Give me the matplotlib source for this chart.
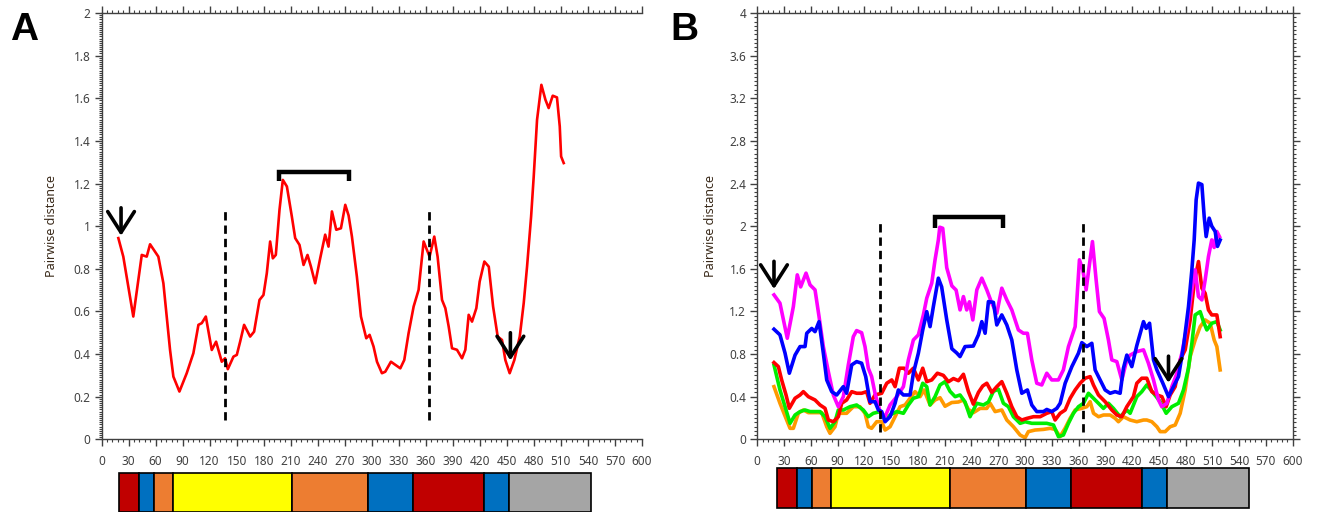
import matplotlib
matplotlib.use("Agg")
import matplotlib.pyplot as plt
from matplotlib.ticker import MultipleLocator, FuncFormatter

plt.rcParams["font.family"] = ["Noto Sans", "DejaVu Sans"]

W, H = 1318, 512

# ---- panel A: single red trace ----
a_x = [18.7, 24.2, 35.3, 44.7, 50.2, 53.9, 63.1, 68.7, 76.1, 79.8, 86.5, 94.6, 102, 107.6,
       111.3, 115.8, 122.4, 127.2, 133.5, 137.2, 140.2, 146.5, 150.2, 153.9, 158.3, 165,
       169.4, 175.4, 179.8, 183.5, 187.2, 190.2, 193.5, 197.6, 201.3, 205.8, 211.3, 215,
       219.8, 224.3, 228.7, 232.5, 237.2, 242.8, 248.3, 252, 255.8, 260.6, 265.8, 270.6,
       274.3, 278, 283.5, 288, 293.9, 297.6, 302, 305.8, 311.3, 315, 321.3, 326.3, 331.7,
       336.1, 340.9, 346.5, 352, 357.6, 361.3, 364.2, 369.4, 373.1, 378, 381.7, 385.4,
       389.1, 394.6, 400.2, 403.9, 407.6, 411.3, 416.1, 419.8, 425, 429.9, 434.7, 439.8,
       444.6, 448.3, 453.1, 458.3, 464.3, 468.7, 472.4, 476.9, 479.8, 483.5, 488.3, 492.8,
       496.4, 500.9, 505.6, 508.7, 510.2, 513.1]
a_y = [0.944, 0.857, 0.576, 0.865, 0.857, 0.915, 0.857, 0.732, 0.419, 0.294, 0.224, 0.31,
       0.404, 0.537, 0.545, 0.576, 0.419, 0.458, 0.364, 0.38, 0.329, 0.388, 0.396, 0.458,
       0.537, 0.482, 0.505, 0.654, 0.677, 0.779, 0.928, 0.849, 0.865, 1.077, 1.217, 1.186,
       1.045, 0.944, 0.912, 0.818, 0.865, 0.81, 0.732, 0.85, 0.96, 0.904, 1.069, 0.983,
       0.99, 1.1, 1.05, 0.951, 0.763, 0.576, 0.474, 0.49, 0.435, 0.364, 0.31, 0.317, 0.364,
       0.349, 0.333, 0.372, 0.498, 0.623, 0.701, 0.928, 0.888, 0.857, 0.951, 0.857, 0.654,
       0.615, 0.529, 0.427, 0.42, 0.38, 0.42, 0.584, 0.552, 0.615, 0.74, 0.834, 0.81, 0.623,
       0.482, 0.466, 0.372, 0.31, 0.372, 0.482, 0.639, 0.81, 1.045, 1.233, 1.499, 1.663,
       1.593, 1.554, 1.612, 1.604, 1.468, 1.327, 1.296]

# ---- panel B: five traces ----
mag_x = [18.7, 25.4, 33.6, 40.4, 44.8, 48.6, 54.6, 59.1, 64.7, 69.2, 74, 79.6, 85.2, 90.8,
         96.4, 102, 107.6, 111.3, 116.9, 120.7, 124.4, 128.1, 131.9, 137.6, 143.2, 148.8,
         156.3, 163.7, 169.3, 174.9, 180.5, 186.1, 189.9, 195.5, 199.2, 202.9, 204.5, 207.8,
         212.3, 218, 222.8, 227.2, 231, 234.7, 237.7, 241.5, 246, 251.6, 257.2, 262.8, 268.4,
         274, 279.6, 285.2, 292.6, 298.2, 302.7, 307.6, 313.2, 318.8, 324.4, 330, 337.4, 343,
         348.7, 356.2, 361, 364.8, 368.5, 371.9, 375.6, 379.7, 383.4, 388.6, 393.5, 397.3,
         402.9, 408.5, 414.1, 417.8, 425.3, 432.8, 438.3, 444, 449.6, 453.3, 458.9, 464.6,
         470.2, 475.8, 481.4, 487, 490.7, 494.4, 498.2, 501.9, 505.6, 509.3, 512, 515, 518]
mag_y = [1.355, 1.277, 0.948, 1.245, 1.543, 1.43, 1.559, 1.449, 1.402, 1.151, 0.87, 0.635,
         0.416, 0.306, 0.4, 0.698, 0.963, 1.02, 1.0, 0.87, 0.667, 0.59, 0.432, 0.26, 0.212,
         0.322, 0.4, 0.494, 0.745, 0.932, 0.98, 1.167, 1.324, 1.465, 1.684, 1.871, 1.99, 1.98,
         1.61, 1.44, 1.40, 1.214, 1.339, 1.214, 1.29, 1.12, 1.402, 1.512, 1.402, 1.277, 1.183,
         1.418, 1.308, 1.214, 1.026, 0.995, 0.995, 0.745, 0.526, 0.51, 0.62, 0.557, 0.557,
         0.651, 0.87, 1.057, 1.684, 1.59, 1.402, 1.62, 1.855, 1.496, 1.198, 1.135, 0.932,
         0.745, 0.729, 0.557, 0.745, 0.79, 0.823, 0.839, 0.714, 0.557, 0.369, 0.306, 0.337,
         0.494, 0.62, 0.808, 1.057, 1.402, 1.59, 1.339, 1.308, 1.496, 1.715, 1.871, 1.80,
         1.95, 1.90]

blue_x = [18.7, 25.4, 31.1, 35.9, 42.3, 47.9, 53.5, 55.4, 61, 64.7, 69.2, 74, 77.8, 83.4, 89,
          96.4, 100.1, 105.8, 111.3, 116.9, 121.5, 126.3, 131.9, 135.7, 139.4, 143.2, 148.8,
          154.4, 158.1, 163.7, 171.2, 174.9, 180.5, 185.4, 189.9, 193.6, 197.3, 202.9, 206.6,
          212.3, 218, 223.5, 227.2, 232.8, 242.1, 247.8, 251.6, 255.3, 259, 264.6, 268.4, 274,
          279.6, 285.2, 290.8, 296.4, 302.7, 307.6, 313.2, 320.7, 324.4, 330, 335.6, 339.4,
          345, 352.5, 359.9, 363.7, 369.3, 374.9, 378.6, 384.2, 389.8, 395.4, 401, 406.6,
          410.3, 414.1, 419.7, 425.3, 432.8, 435.8, 439.6, 444, 447.8, 454.5, 460.8, 466.4,
          472, 477.6, 483.2, 487, 489.6, 491.8, 494.4, 498.2, 500.8, 503, 506.4, 509.3, 513.1,
          515.7, 518.7]
blue_y = [1.033, 0.98, 0.808, 0.62, 0.79, 0.87, 0.87, 0.995, 1.04, 1.01, 1.104, 0.808, 0.557,
          0.447, 0.416, 0.494, 0.432, 0.698, 0.729, 0.714, 0.588, 0.353, 0.353, 0.275, 0.26,
          0.165, 0.212, 0.338, 0.463, 0.416, 0.416, 0.62, 0.808, 1.026, 1.198, 1.057, 1.245,
          1.512, 1.43, 1.12, 0.85, 0.81, 0.776, 0.87, 0.875, 0.98, 1.104, 0.995, 1.292, 1.285,
          1.073, 1.167, 1.073, 0.932, 0.651, 0.432, 0.463, 0.322, 0.26, 0.26, 0.28, 0.26, 0.29,
          0.338, 0.526, 0.682, 0.808, 0.907, 0.87, 0.901, 0.651, 0.557, 0.463, 0.432, 0.447,
          0.432, 0.667, 0.79, 0.682, 0.88, 1.104, 1.041, 1.089, 0.745, 0.651, 0.526, 0.4,
          0.494, 0.588, 0.87, 1.245, 1.59, 1.871, 2.247, 2.404, 2.39, 2.09, 1.902, 2.075, 2.0,
          1.95, 1.81, 1.87]

red_x = [18.7, 23.6, 27.3, 32.2, 35.9, 42.3, 47.9, 51.6, 57.2, 64.7, 70.3, 75.9, 79.6, 85.2,
         90.8, 94.6, 100.1, 105.8, 111.3, 116.9, 122.5, 126.3, 131.9, 139.4, 145.1, 150.7,
         154.4, 159.2, 164.5, 169.3, 174.9, 180.5, 185.4, 189.9, 195.5, 201.8, 208.5, 214.2,
         219.8, 225.4, 231, 236.5, 242.1, 247.8, 252.6, 257.2, 262.8, 268.4, 274, 279.6, 285.2,
         290.8, 296.4, 302, 309.5, 317, 324.4, 330, 333.7, 339.4, 345, 350.6, 356.2, 361.8,
         367.4, 373, 376.7, 382.3, 389.8, 397.3, 402.9, 408.5, 414.1, 421.5, 425.3, 430.9,
         436.5, 442.1, 447.8, 453.4, 458.2, 462.7, 468.3, 473.9, 479.5, 485.1, 489.6, 494.4,
         498.2, 501.9, 505.6, 509.3, 515, 518.7]
red_y = [0.72, 0.682, 0.557, 0.416, 0.291, 0.385, 0.416, 0.447, 0.4, 0.369, 0.322, 0.291,
         0.181, 0.165, 0.212, 0.338, 0.369, 0.447, 0.432, 0.432, 0.447, 0.338, 0.416, 0.432,
         0.526, 0.557, 0.494, 0.667, 0.667, 0.62, 0.667, 0.557, 0.667, 0.541, 0.557, 0.62, 0.6,
         0.54, 0.57, 0.55, 0.61, 0.45, 0.33, 0.44, 0.5, 0.526, 0.44, 0.494, 0.541, 0.432,
         0.306, 0.212, 0.181, 0.196, 0.212, 0.212, 0.244, 0.26, 0.181, 0.244, 0.275, 0.385,
         0.463, 0.526, 0.573, 0.588, 0.51, 0.416, 0.353, 0.275, 0.228, 0.212, 0.306, 0.4,
         0.526, 0.573, 0.573, 0.447, 0.416, 0.4, 0.306, 0.416, 0.494, 0.745, 0.839, 1.12,
         1.465, 1.668, 1.418, 1.37, 1.214, 1.167, 1.167, 0.963]

green_x = [18.7, 25.4, 31.1, 36.7, 42.3, 47.9, 53.5, 59.1, 70.3, 75.9, 81.5, 87.1, 90.8, 96.4,
           103.9, 111.3, 118.8, 124.4, 130, 137.6, 143.2, 148.8, 156.3, 163.7, 169.3, 174.9,
           180.5, 185.4, 189.9, 193.6, 199.2, 204.8, 210.4, 216, 221.7, 227.2, 232.8, 238.4,
           245.9, 253.4, 259, 264.6, 270.2, 275.8, 281.4, 287, 294.5, 300.1, 307.6, 315, 324.4,
           331.9, 337.5, 343, 348.7, 354.3, 359.9, 365.5, 371.1, 376.7, 382.3, 387.9, 393.5,
           399.1, 406.6, 414.1, 417.8, 425.3, 430.9, 436.5, 444, 451.5, 458.2, 464.6, 472,
           477.6, 483.2, 487, 490.7, 496.3, 500, 503.8, 509.3, 515, 518.7]
green_y = [0.698, 0.463, 0.306, 0.15, 0.228, 0.26, 0.275, 0.26, 0.26, 0.212, 0.103, 0.165,
           0.275, 0.275, 0.306, 0.322, 0.275, 0.212, 0.244, 0.26, 0.181, 0.228, 0.26, 0.244,
           0.322, 0.385, 0.4, 0.526, 0.494, 0.322, 0.4, 0.51, 0.541, 0.45, 0.40, 0.416, 0.35,
           0.212, 0.338, 0.322, 0.35, 0.45, 0.47, 0.338, 0.306, 0.212, 0.15, 0.165, 0.15, 0.15,
           0.15, 0.134, 0.025, 0.04, 0.15, 0.244, 0.306, 0.338, 0.432, 0.385, 0.338, 0.29,
           0.338, 0.29, 0.212, 0.275, 0.244, 0.4, 0.447, 0.51, 0.432, 0.353, 0.244, 0.306,
           0.338, 0.463, 0.667, 0.901, 1.167, 1.198, 1.104, 1.026, 1.089, 1.104, 1.026]

orange_x = [18.7, 25.4, 32.9, 36.7, 40.4, 46, 51.6, 57.2, 64.7, 72.2, 77.8, 81.5, 87.1, 90.8,
            100.1, 107.6, 115, 120.7, 124.4, 128.1, 133.8, 139.4, 143.2, 148.8, 154.4, 160,
            165.6, 171.2, 176.8, 182.4, 186.9, 193.6, 199.2, 204.8, 210.4, 217.9, 225.4, 231,
            236.6, 242.1, 249.7, 257.2, 260.9, 266.5, 274, 279.6, 287, 294.5, 300.1, 303.8,
            311.3, 320.7, 328.2, 333.8, 339.3, 344.9, 350.6, 356.2, 363.7, 369.3, 373, 376.8,
            382.4, 388, 395.4, 401, 404.7, 410.3, 417.8, 425.3, 432.8, 436.5, 442.1, 447.8,
            451.5, 457.1, 462.7, 468.3, 473.9, 479.5, 485.1, 490.7, 496.3, 501.9, 507.5, 512,
            515, 518.7]
orange_y = [0.494, 0.338, 0.181, 0.103, 0.103, 0.244, 0.275, 0.25, 0.25, 0.25, 0.118, 0.056,
            0.118, 0.244, 0.244, 0.306, 0.306, 0.244, 0.118, 0.103, 0.165, 0.165, 0.087, 0.118,
            0.212, 0.306, 0.322, 0.385, 0.447, 0.4, 0.463, 0.322, 0.369, 0.39, 0.31, 0.345,
            0.35, 0.369, 0.28, 0.25, 0.29, 0.29, 0.338, 0.26, 0.275, 0.181, 0.118, 0.04, 0.015,
            0.072, 0.087, 0.093, 0.103, 0.093, 0.025, 0.103, 0.197, 0.275, 0.291, 0.306, 0.353,
            0.244, 0.212, 0.228, 0.228, 0.197, 0.165, 0.212, 0.181, 0.165, 0.181, 0.181, 0.165,
            0.118, 0.072, 0.072, 0.118, 0.134, 0.244, 0.463, 0.776, 0.932, 1.057, 1.12, 1.089,
            0.932, 0.87, 0.651]

# ---- domain bar under each panel (residue boundaries) ----
domain_edges = [19.8, 41.3, 58.3, 79.1, 211.7, 295.8, 345.8, 425.3, 452.8, 543.9]
domain_colors = ["#c00000", "#0070c0", "#ed7d31", "#ffff00", "#ed7d31",
                 "#0070c0", "#c00000", "#0070c0", "#a5a5a5"]

# ---- annotations ----
a_dashes = [137.6, 363.5]
a_dash_span = (0.09, 1.09)
a_bracket = (197, 274.8, 1.213, 1.255)     # x0, x1, leg bottom, top
a_arrows = [(21.7, 1.086, 0.955), (453.9, 0.50, 0.37)]   # x, tail, tip

b_dashes = [137.6, 365.5]
b_dash_span = (0.07, 2.06)
b_bracket = (198.7, 275.2, 1.984, 2.085)
b_arrows = [(18.7, 1.67, 1.41), (460.8, 0.78, 0.53)]

TXT = "#404040"


def px_axes(fig, left, top, right, bottom):
    return fig.add_axes([left / W, 1 - bottom / H, (right - left) / W, (bottom - top) / H])


def style(ax, ymax, ymajor, yminor):
    ax.set_xlim(0, 600)
    ax.set_ylim(0, ymax)
    ax.xaxis.set_major_locator(MultipleLocator(30))
    ax.xaxis.set_minor_locator(MultipleLocator(6))
    ax.yaxis.set_major_locator(MultipleLocator(ymajor))
    ax.yaxis.set_minor_locator(MultipleLocator(yminor))
    ax.yaxis.set_major_formatter(FuncFormatter(lambda v, p: f"{v:g}"))
    ax.tick_params(which="both", direction="out", color=TXT, labelcolor=TXT,
                   labelsize=8.5, top=True)
    ax.tick_params(which="major", length=5, width=1)
    ax.tick_params(which="minor", length=2.5, width=0.8)
    ax.tick_params(axis="x", which="major", pad=6)
    ax.tick_params(axis="y", which="major", pad=3)
    for s in ax.spines.values():
        s.set_color(TXT)
        s.set_linewidth(1)
    ax.set_ylabel("Pairwise distance", fontsize=9, color="#3a2a1a")


def decorate(ax, dashes, span, bracket, arrows):
    for xd in dashes:
        ax.plot([xd, xd], span, color="black", lw=2, ls=(0, (3, 1.8)))
    x0, x1, leg, top = bracket
    ax.plot([x0, x0, x1, x1], [leg, top, top, leg], color="black", lw=3.2,
            solid_joinstyle="miter", solid_capstyle="butt")
    for xa, tail, tip in arrows:
        ax.annotate("", xy=(xa, tip), xytext=(xa, tail),
                    arrowprops=dict(arrowstyle="->,head_length=0.75,head_width=0.48",
                                    lw=2.6, color="black", mutation_scale=20,
                                    shrinkA=0, shrinkB=0))


def domain_bar(fig, left, top, right, bottom):
    bx = px_axes(fig, left, top, right, bottom)
    lefts = domain_edges[:-1]
    widths = [b - a for a, b in zip(domain_edges[:-1], domain_edges[1:])]
    bx.bar(lefts, [1] * len(lefts), width=widths, align="edge",
           color=domain_colors, edgecolor="black", linewidth=1.2)
    bx.set_xlim(domain_edges[0], domain_edges[-1])
    bx.set_ylim(0, 1)
    bx.axis("off")
    for p in bx.patches:
        p.set_clip_on(False)


fig = plt.figure(figsize=(W / 100, H / 100), dpi=100)

# panel A
axA = px_axes(fig, 101.5, 13, 642, 439.3)
style(axA, 2, 0.2, 0.01)
axA.spines["right"].set_visible(False)
axA.plot(a_x, a_y, color="#ff0000", lw=1.9)
decorate(axA, a_dashes, a_dash_span, a_bracket, a_arrows)
axA.yaxis.set_label_coords(-0.08, 0.5)
domain_bar(fig, 119.3, 473.3, 591, 511.5)

# panel B
axB = px_axes(fig, 757.3, 13, 1292.7, 439.3)
style(axB, 4, 0.4, 0.04)
axB.tick_params(which="both", right=True)
for xs, ys, c in [(orange_x, orange_y, "#ff9900"), (green_x, green_y, "#00ee00"),
                  (red_x, red_y, "#ff0000"), (mag_x, mag_y, "#ff00ff"),
                  (blue_x, blue_y, "#0000ff")]:
    axB.plot(xs, ys, color=c, lw=2.6)
decorate(axB, b_dashes, b_dash_span, b_bracket, b_arrows)
axB.yaxis.set_label_coords(-0.076, 0.5)
domain_bar(fig, 777.3, 467.7, 1249.3, 507.7)

fig.text(10 / W, 1 - 40 / H, "A", fontsize=28, fontweight="bold",
         family=["Liberation Sans", "DejaVu Sans"], va="baseline")
fig.text(670 / W, 1 - 40 / H, "B", fontsize=28, fontweight="bold",
         family=["Liberation Sans", "DejaVu Sans"], va="baseline")

fig.savefig("out.png", dpi=100)
